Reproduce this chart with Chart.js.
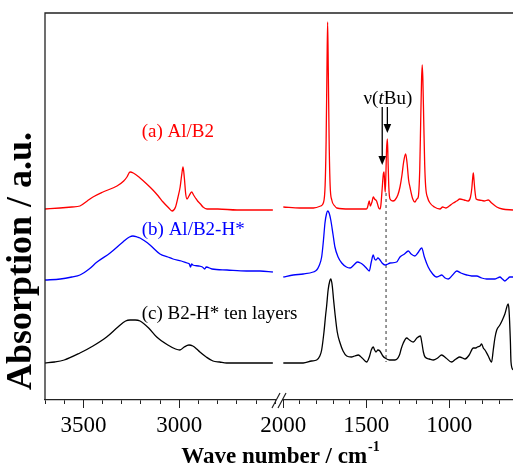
<!DOCTYPE html>
<html>
<head>
<meta charset="utf-8">
<script src="https://cdn.jsdelivr.net/npm/chart.js@4.4.1/dist/chart.umd.min.js"></script>
<style>
  html, body { margin: 0; padding: 0; background: #fff; }
  canvas { display: block; }
</style>
</head>
<body>
<canvas id="chart" width="513" height="466"></canvas>
<script>
// [wave number cm-1, absorption a.u.]
const redLeft = [[3700,191],[3622,192],[3560,193],[3518,194],[3480,199],[3450,203],[3398,208],[3325,214],[3290,219],[3273,223],[3257,228],[3240,227],[3205,222],[3170,216],[3138,210],[3110,204],[3085,198],[3055,192],[3038,189],[3020,193],[3007,203],[2996,213],[2988,225],[2981,233],[2974,222],[2967,206],[2960,201],[2950,204],[2936,208],[2926,205],[2916,202],[2905,199],[2890,196],[2877,193],[2856,191],[2800,191],[2700,190],[2600,190],[2513,190]];
const redRight = [[2000,193],[1900,192],[1819,192],[1775,194],[1759,197],[1748,215],[1742,260],[1737,330],[1733,378],[1729,330],[1724,260],[1718,215],[1708,200],[1690,194],[1678,192],[1600,191],[1538,191],[1500,191],[1494,192],[1486,197],[1482,199],[1476,194],[1466,198],[1458,203],[1450,201],[1438,199],[1425,192],[1417,191],[1412,195],[1404,212],[1398,225],[1393,228],[1389,215],[1386,208],[1382,225],[1378,250],[1373,261],[1369,240],[1364,212],[1357,201],[1340,199],[1327,200],[1310,205],[1297,213],[1285,225],[1275,238],[1263,246],[1255,238],[1245,220],[1237,213],[1220,201],[1207,198],[1195,201],[1187,203],[1178,230],[1172,280],[1167,320],[1163,335],[1159,320],[1154,280],[1148,235],[1142,213],[1130,202],[1116,197],[1090,193],[1056,191],[1040,193],[1020,192],[1000,194],[976,197],[955,199],[936,201],[910,200],[886,199],[872,203],[864,212],[859,222],[855,227],[851,220],[846,210],[838,201],[820,200],[790,199],[765,200],[745,197],[714,193],[680,191],[616,190]];
const blueLeft = [[3700,120],[3620,121],[3560,123],[3518,125],[3470,131],[3429,138],[3361,147],[3294,158],[3260,163],[3242,164],[3220,163],[3205,162],[3180,159],[3153,155],[3101,146],[3060,143],[3033,141],[2990,139],[2960,137],[2948,136],[2942,133],[2936,136],[2930,135],[2900,134],[2880,133],[2868,131],[2860,133],[2830,131],[2752,130],[2650,129],[2580,129],[2513,128]];
const blueRight = [[2000,123],[1940,125],[1880,126],[1820,128],[1799,130],[1785,134],[1769,143],[1758,160],[1749,177],[1740,186],[1733,189],[1724,187],[1714,180],[1700,165],[1689,153],[1670,143],[1648,137],[1620,133],[1598,132],[1575,135],[1554,138],[1535,137],[1518,135],[1500,132],[1482,129],[1470,138],[1458,145],[1450,141],[1442,140],[1430,142],[1422,141],[1405,137],[1387,135],[1370,136],[1357,137],[1317,138],[1297,143],[1270,146],[1247,149],[1230,146],[1207,144],[1190,147],[1166,152],[1150,143],[1127,133],[1100,126],[1076,123],[1060,124],[1046,125],[1025,122],[1006,121],[980,125],[955,129],[930,127],[895,125],[865,124],[835,124],[805,122],[775,121],[745,121],[725,121],[710,122],[695,123],[680,121],[665,119],[650,121],[635,123],[616,123]];
const blackLeft = [[3700,37],[3650,38],[3600,40],[3518,47],[3450,54],[3379,63],[3320,73],[3280,79],[3257,80],[3230,80],[3205,79],[3160,72],[3118,63],[3060,55],[3020,51],[2997,50],[2975,53],[2950,55],[2930,54],[2910,51],[2893,48],[2860,43],[2825,39],[2790,38],[2754,37],[2650,37],[2513,37]];
const blackRight = [[2000,37],[1940,37],[1880,37],[1830,39],[1799,40],[1780,44],[1769,50],[1755,68],[1745,85],[1739,94],[1730,110],[1720,119],[1713,121],[1705,114],[1697,100],[1689,87],[1675,68],[1658,57],[1640,49],[1618,44],[1590,43],[1570,44],[1548,45],[1525,42],[1498,38],[1480,44],[1470,50],[1458,53],[1450,50],[1442,48],[1430,50],[1418,49],[1400,44],[1387,42],[1360,40],[1327,40],[1300,45],[1290,51],[1277,57],[1257,62],[1240,60],[1217,58],[1195,62],[1174,64],[1165,57],[1156,48],[1146,43],[1120,41],[1096,40],[1070,42],[1046,45],[1020,42],[986,38],[960,41],[936,43],[920,42],[905,41],[880,45],[855,52],[840,52],[831,53],[815,54],[805,56],[795,52],[785,50],[765,44],[745,38],[735,50],[725,62],[714,70],[695,75],[680,80],[665,86],[645,96],[640,90],[632,60],[628,38],[616,30]];

const seriesLabels = ['(a) Al/B2', '(b) Al/B2-H*', '(c) B2-H* ten layers'];
const seriesColors = ['#ff0000', '#0000ff', '#000000'];
const labelWn = 3196;
const labelAbs = [268, 170, 86];

const leftRange = [2481, 3700];
const rightRange = [616, 2026];
const leftTicks = [3700, 3600, 3500, 3400, 3300, 3200, 3100, 3000, 2900, 2800, 2700, 2600, 2500];
const rightTicks = [2000, 1900, 1800, 1700, 1600, 1500, 1400, 1300, 1200, 1100, 1000, 900, 800, 700];
const labelledTicks = [3500, 3000, 2000, 1500, 1000];

// nu(tBu) marker
const tbuArrowWn = [1404, 1373];
const tbuArrowTip = [235, 267];
const tbuArrowTop = 293;
const tbuLineWn = 1381;
const tbuLineAbs = [207, 38];
const tbuTextWn = 1370;
const tbuTextAbs = 301;

const FONT = '"Liberation Serif", "Times New Roman", serif';
const pts = arr => arr.map(([x, y]) => ({ x, y }));

const spectra = [[redLeft, redRight], [blueLeft, blueRight], [blackLeft, blackRight]];
const datasets = [];
spectra.forEach(([l, r], i) => {
  [[l, 'xL'], [r, 'xR']].forEach(([d, ax]) => {
    datasets.push({
      data: pts(d), xAxisID: ax, yAxisID: 'y',
      borderColor: seriesColors[i], borderWidth: 1.3,
      pointRadius: 0, fill: false, cubicInterpolationMode: 'monotone'
    });
  });
});
datasets.push({
  data: tbuLineAbs.map(y => ({ x: tbuLineWn, y })), xAxisID: 'xR', yAxisID: 'y',
  borderColor: '#555', borderWidth: 1.2, borderDash: [3, 3], pointRadius: 0, tension: 0
});

function xAxis(range, ticks) {
  return {
    type: 'linear', position: 'bottom', stack: 'wn', stackWeight: 1,
    reverse: true, min: range[0], max: range[1],
    afterBuildTicks: s => { s.ticks = ticks.map(v => ({ value: v })); },
    afterFit: s => { s.height = 66; s.paddingLeft = 0; s.paddingRight = 0; },
    border: { display: true, color: '#222', width: 1.3 },
    grid: { display: true, drawOnChartArea: false, drawTicks: true, tickLength: 4, tickColor: '#222', tickWidth: 1 },
    ticks: {
      autoSkip: false, maxRotation: 0, minRotation: 0, padding: 8, color: '#000',
      font: { family: FONT, size: 23 },
      callback: v => labelledTicks.includes(v) ? String(v) : ''
    }
  };
}

const overlay = {
  id: 'overlay',
  afterDraw(chart) {
    const { ctx, chartArea: a, scales } = chart;
    const { xL, xR, y } = scales;
    ctx.save();
    ctx.strokeStyle = '#222';
    ctx.lineWidth = 1.3;
    ctx.beginPath();
    ctx.moveTo(a.left, a.bottom); ctx.lineTo(a.left, a.top); ctx.lineTo(a.right, a.top);
    ctx.stroke();

    // longer major ticks
    ctx.lineWidth = 1;
    [xL, xR].forEach(s => s.ticks.forEach(t => {
      if (!labelledTicks.includes(t.value)) return;
      const px = Math.round(s.getPixelForValue(t.value)) + 0.5;
      ctx.beginPath(); ctx.moveTo(px, a.bottom); ctx.lineTo(px, a.bottom + 8); ctx.stroke();
    }));

    // axis break
    const bx = xL.right;
    ctx.fillStyle = '#fff';
    ctx.fillRect(bx - 3, a.bottom - 2, 6, 4);
    ctx.strokeStyle = '#222';
    ctx.lineWidth = 1.2;
    ctx.beginPath();
    ctx.moveTo(bx - 7, a.bottom + 8); ctx.lineTo(bx + 1, a.bottom - 7);
    ctx.moveTo(bx - 1, a.bottom + 8); ctx.lineTo(bx + 7, a.bottom - 7);
    ctx.stroke();

    // spectrum labels
    ctx.font = `19px ${FONT}`;
    ctx.textBaseline = 'middle';
    ctx.textAlign = 'left';
    seriesLabels.forEach((t, i) => {
      ctx.fillStyle = seriesColors[i];
      ctx.fillText(t, xL.getPixelForValue(labelWn), y.getPixelForValue(labelAbs[i]));
    });

    // tBu arrows
    ctx.strokeStyle = '#000';
    ctx.fillStyle = '#000';
    ctx.lineWidth = 1.3;
    tbuArrowWn.forEach((wn, i) => {
      const px = xR.getPixelForValue(wn);
      const top = y.getPixelForValue(tbuArrowTop);
      const tip = y.getPixelForValue(tbuArrowTip[i]);
      ctx.beginPath(); ctx.moveTo(px, top); ctx.lineTo(px, tip - 8); ctx.stroke();
      ctx.beginPath(); ctx.moveTo(px - 3.8, tip - 9); ctx.lineTo(px + 3.8, tip - 9); ctx.lineTo(px, tip); ctx.closePath(); ctx.fill();
    });
    const parts = [['ν(', ''], ['t', 'italic '], ['Bu)', '']];
    let w = 0;
    parts.forEach(([s, st]) => { ctx.font = `${st}19px ${FONT}`; w += ctx.measureText(s).width; });
    let tx = xR.getPixelForValue(tbuTextWn) - w / 2;
    const ty = y.getPixelForValue(tbuTextAbs);
    parts.forEach(([s, st]) => {
      ctx.font = `${st}19px ${FONT}`;
      ctx.fillText(s, tx, ty);
      tx += ctx.measureText(s).width;
    });

    // axis titles
    ctx.fillStyle = '#000';
    ctx.textBaseline = 'alphabetic';
    ctx.font = `bold 23px ${FONT}`;
    const main = 'Wave number / cm';
    const mw = ctx.measureText(main).width;
    ctx.font = `bold 14px ${FONT}`;
    const sw = ctx.measureText('-1').width;
    let x0 = 280 - (mw + sw) / 2;
    ctx.font = `bold 23px ${FONT}`;
    ctx.fillText(main, x0, 463);
    ctx.font = `bold 14px ${FONT}`;
    ctx.fillText('-1', x0 + mw + 1, 451);

    ctx.translate(31, 261);
    ctx.rotate(-Math.PI / 2);
    ctx.textAlign = 'center';
    ctx.font = `bold 36px ${FONT}`;
    ctx.fillText('Absorption / a.u.', 0, 0);
    ctx.restore();
  }
};

new Chart(document.getElementById('chart'), {
  type: 'line',
  data: { datasets },
  options: {
    responsive: false,
    animation: false,
    layout: { padding: { left: 45, top: 13, right: 0, bottom: 0 } },
    plugins: { legend: { display: false }, tooltip: { enabled: false } },
    scales: {
      xL: xAxis(leftRange, leftTicks),
      xR: xAxis(rightRange, rightTicks),
      y: { display: false, min: 0, max: 387 }
    }
  },
  plugins: [overlay]
});
</script>
</body>
</html>
